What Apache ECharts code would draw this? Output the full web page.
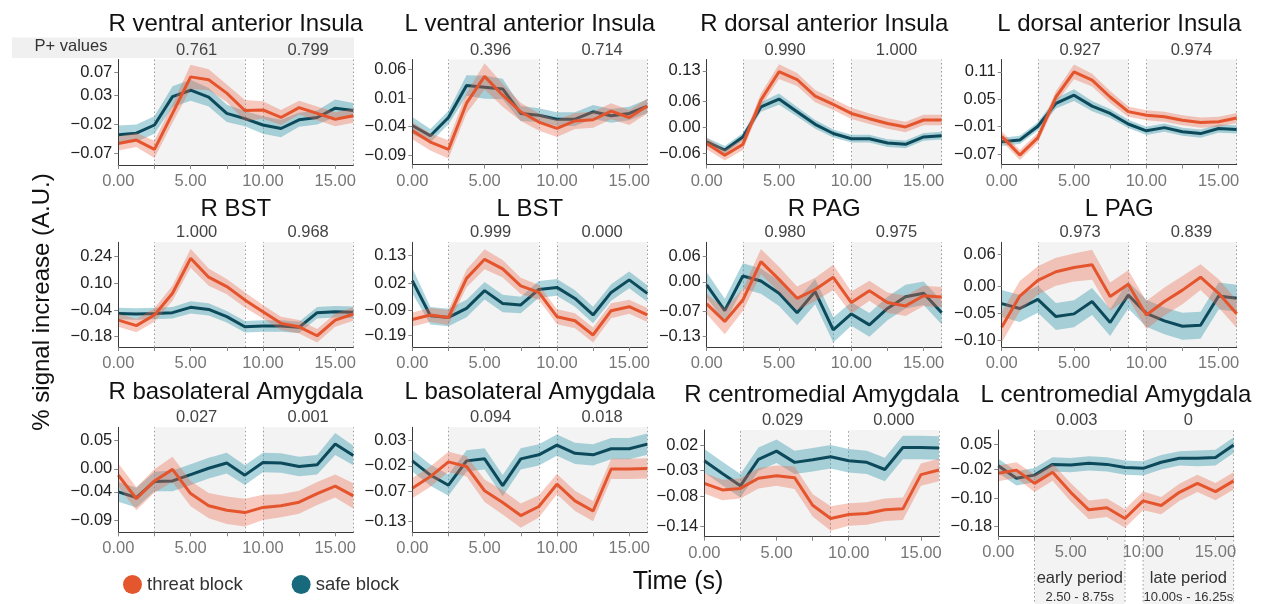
<!DOCTYPE html>
<html><head><meta charset="utf-8">
<script src="https://cdn.jsdelivr.net/npm/echarts@6/dist/echarts.min.js"></script>
<style>html,body{margin:0;padding:0;background:#fff}#c{width:1263px;height:604px}</style>
</head><body><div id="c"></div>
<script>
// ---------------- DATA ----------------
const timePoints = [0, 1.25, 2.5, 3.75, 5, 6.25, 7.5, 8.75, 10, 11.25, 12.5, 13.75, 15, 16.25];
const regionTitles = ['R ventral anterior Insula','L ventral anterior Insula','R dorsal anterior Insula','L dorsal anterior Insula',
  'R BST','L BST','R PAG','L PAG',
  'R basolateral Amygdala','L basolateral Amygdala','R centromedial Amygdala','L centromedial Amygdala'];
const pEarly = ['0.761','0.396','0.990','0.927','1.000','0.999','0.980','0.973','0.027','0.094','0.029','0.003'];
const pLate  = ['0.799','0.714','1.000','0.974','0.968','0.000','0.975','0.839','0.001','0.018','0.000','0'];
const yTicks = [
  [-0.07,-0.02,0.03,0.07],[-0.09,-0.04,0.01,0.06],[-0.06,0.00,0.06,0.13],[-0.07,-0.01,0.05,0.11],
  [-0.18,-0.04,0.10,0.24],[-0.19,-0.09,0.02,0.13],[-0.13,-0.07,0.00,0.06],[-0.10,-0.05,0.00,0.06],
  [-0.09,-0.04,0.00,0.05],[-0.13,-0.07,-0.02,0.03],[-0.14,-0.08,-0.03,0.02],[-0.18,-0.10,-0.02,0.05]];
const yRange = [
  [-0.090,0.092],[-0.1063,0.0775],[-0.0853,0.156],[-0.0926,0.137],
  [-0.234,0.315],[-0.235,0.183],[-0.1545,0.094],[-0.1124,0.0816],
  [-0.1102,0.072],[-0.151,0.0563],[-0.1596,0.0494],[-0.206,0.090]];
const threatMean = [
  [-0.053,-0.047,-0.063,-0.001,0.062,0.057,0.034,0.004,0.005,-0.008,0.009,-0.001,-0.011,-0.005],
  [-0.047,-0.067,-0.080,0.001,0.048,0.015,-0.014,-0.032,-0.043,-0.030,-0.028,-0.013,-0.024,-0.004],
  [-0.037,-0.064,-0.039,0.063,0.128,0.110,0.072,0.053,0.032,0.020,0.009,0.001,0.017,0.017],
  [-0.031,-0.072,-0.034,0.055,0.110,0.092,0.055,0.023,0.015,0.012,0.004,-0.001,0.001,0.009],
  [-0.093,-0.122,-0.066,0.048,0.231,0.132,0.083,0.013,-0.049,-0.110,-0.128,-0.175,-0.093,-0.061],
  [-0.125,-0.107,-0.117,0.039,0.115,0.077,0.009,-0.017,-0.114,-0.130,-0.187,-0.090,-0.074,-0.107],
  [-0.052,-0.094,-0.043,0.048,0.006,-0.039,-0.018,0.011,-0.049,-0.021,-0.049,-0.057,-0.033,-0.036],
  [-0.076,-0.018,0.011,0.027,0.035,0.040,-0.019,0.004,-0.053,-0.028,-0.007,0.017,-0.013,-0.051],
  [-0.011,-0.052,-0.021,-0.001,-0.043,-0.064,-0.072,-0.076,-0.067,-0.064,-0.058,-0.043,-0.030,-0.047],
  [-0.064,-0.041,-0.012,-0.021,-0.069,-0.092,-0.118,-0.100,-0.056,-0.089,-0.109,-0.026,-0.026,-0.025],
  [-0.055,-0.068,-0.065,-0.045,-0.040,-0.044,-0.098,-0.124,-0.116,-0.114,-0.107,-0.105,-0.038,-0.029],
  [-0.031,-0.022,-0.059,-0.028,-0.084,-0.133,-0.127,-0.157,-0.108,-0.121,-0.084,-0.059,-0.082,-0.052]];
const threatErr = [
  [0.012,0.012,0.015,0.016,0.021,0.018,0.015,0.018,0.015,0.013,0.012,0.012,0.012,0.012],
  [0.015,0.015,0.016,0.018,0.023,0.020,0.016,0.015,0.015,0.014,0.014,0.014,0.013,0.013],
  [0.013,0.012,0.013,0.015,0.017,0.015,0.014,0.013,0.013,0.012,0.012,0.012,0.012,0.012],
  [0.011,0.011,0.011,0.013,0.016,0.014,0.013,0.011,0.011,0.011,0.011,0.011,0.011,0.011],
  [0.035,0.035,0.035,0.040,0.050,0.045,0.040,0.040,0.035,0.035,0.035,0.035,0.035,0.035],
  [0.028,0.028,0.030,0.035,0.040,0.035,0.032,0.030,0.030,0.030,0.030,0.030,0.028,0.028],
  [0.024,0.030,0.026,0.030,0.030,0.028,0.028,0.030,0.026,0.024,0.024,0.024,0.024,0.024],
  [0.028,0.028,0.026,0.026,0.026,0.028,0.026,0.026,0.026,0.026,0.026,0.024,0.026,0.026],
  [0.020,0.020,0.020,0.022,0.022,0.022,0.024,0.024,0.022,0.020,0.020,0.020,0.020,0.022],
  [0.020,0.020,0.020,0.020,0.022,0.024,0.024,0.022,0.020,0.020,0.020,0.020,0.020,0.020],
  [0.020,0.020,0.020,0.020,0.020,0.022,0.022,0.024,0.022,0.022,0.022,0.022,0.022,0.022],
  [0.022,0.022,0.024,0.024,0.026,0.026,0.026,0.026,0.026,0.024,0.024,0.024,0.024,0.024]];
const safeMean = [
  [-0.038,-0.035,-0.021,0.028,0.039,0.027,-0.001,-0.010,-0.021,-0.027,-0.012,-0.008,0.008,0.004],
  [-0.038,-0.056,-0.024,0.032,0.029,0.026,-0.017,-0.020,-0.027,-0.027,-0.014,-0.021,-0.017,-0.004],
  [-0.033,-0.052,-0.022,0.047,0.065,0.036,0.007,-0.014,-0.026,-0.026,-0.036,-0.039,-0.022,-0.019],
  [-0.043,-0.039,-0.009,0.041,0.059,0.035,0.019,-0.004,-0.019,-0.012,-0.021,-0.025,-0.014,-0.016],
  [-0.058,-0.061,-0.058,-0.054,-0.026,-0.037,-0.075,-0.128,-0.124,-0.124,-0.131,-0.054,-0.049,-0.052],
  [0.030,-0.110,-0.117,-0.081,-0.010,-0.061,-0.067,-0.005,0.003,-0.041,-0.107,-0.017,0.033,-0.021],
  [-0.007,-0.068,0.014,0.002,-0.027,-0.073,-0.023,-0.114,-0.076,-0.102,-0.063,-0.035,-0.027,-0.073],
  [-0.032,-0.041,-0.024,-0.056,-0.051,-0.028,-0.067,-0.016,-0.050,-0.064,-0.074,-0.072,-0.018,-0.022],
  [-0.040,-0.050,-0.022,-0.021,-0.010,0.001,0.010,-0.011,0.011,0.010,0.004,0.007,0.043,0.023],
  [-0.010,-0.038,-0.058,-0.010,-0.006,-0.059,-0.006,0.002,0.021,0.005,0.002,0.014,0.014,0.023],
  [-0.011,-0.036,-0.060,-0.008,0.008,-0.014,-0.009,-0.003,-0.011,-0.014,-0.028,0.015,0.015,0.014],
  [-0.010,-0.045,-0.036,-0.006,-0.008,-0.003,-0.006,-0.015,-0.017,0.000,0.011,0.011,0.013,0.048]];
const safeErr = [
  [0.016,0.015,0.015,0.018,0.018,0.016,0.015,0.013,0.015,0.015,0.012,0.012,0.015,0.013],
  [0.015,0.012,0.012,0.018,0.020,0.018,0.013,0.012,0.012,0.012,0.012,0.012,0.012,0.012],
  [0.009,0.009,0.009,0.011,0.013,0.011,0.010,0.009,0.009,0.009,0.009,0.009,0.009,0.009],
  [0.009,0.009,0.009,0.011,0.013,0.011,0.010,0.009,0.009,0.009,0.009,0.009,0.009,0.009],
  [0.030,0.030,0.030,0.030,0.032,0.032,0.030,0.030,0.030,0.030,0.030,0.030,0.030,0.030],
  [0.050,0.035,0.035,0.035,0.035,0.035,0.033,0.033,0.033,0.033,0.033,0.033,0.033,0.033],
  [0.030,0.028,0.030,0.030,0.030,0.030,0.030,0.030,0.028,0.028,0.028,0.028,0.028,0.028],
  [0.025,0.025,0.025,0.025,0.025,0.025,0.025,0.025,0.025,0.025,0.025,0.025,0.025,0.025],
  [0.017,0.017,0.017,0.018,0.018,0.018,0.018,0.017,0.017,0.017,0.017,0.017,0.019,0.017],
  [0.021,0.021,0.021,0.021,0.021,0.021,0.021,0.021,0.021,0.021,0.021,0.021,0.021,0.021],
  [0.023,0.023,0.023,0.023,0.023,0.023,0.023,0.023,0.023,0.023,0.023,0.023,0.023,0.023],
  [0.020,0.020,0.020,0.020,0.020,0.020,0.020,0.020,0.020,0.020,0.020,0.022,0.022,0.022]];
const earlyWindow = ['2.50', '8.75'];
const lateWindow = ['10.00', '16.25'];
const seriesNames = ['threat block', 'safe block'];

// ---------------- LAYOUT ----------------
const panelBoxes = [
  [118.3,59.5,235,105.5],[412.3,59.5,235,105],[706.7,59.5,235,105],[1001.7,59.5,235,105],
  [118.3,242.3,235,104.7],[412.3,242.3,235,104.7],[706.7,242.3,235,104.7],[1001.7,242.3,235,104.7],
  [118.3,427.3,235,105],[412.3,427.3,235,105],[704.3,430,234.7,106.7],[998.3,430,235.3,106]];
const titleOffset = [35,35,35,35,33,33,33,33,35,35,35,35];
const FONT = '"Liberation Sans", Arial, sans-serif';
const C_THREAT = '#e4552e', C_SAFE = '#0c4a5b';
const B_THREAT = 'rgba(235,105,75,0.36)', B_SAFE = 'rgba(60,155,175,0.42)';
const SHADE = '#f3f3f3';

const timeLabels = timePoints.map(t => t.toFixed(2));
const fmtTick = v => (Math.abs(v) < 1e-9 ? 0 : v).toFixed(2).replace('-', '\u2212');

const grids = [], xAxes = [], yAxes = [], series = [];
panelBoxes.forEach((b, i) => {
  grids.push({left: b[0], top: b[1], width: b[2], height: b[3], containLabel: false, outerBoundsMode: 'none'});
  xAxes.push({
    type: 'category', gridIndex: i, data: timeLabels, boundaryGap: false, z: 6,
    axisLine: {show: true, onZero: false, lineStyle: {color: '#3a3a3a', width: 1}},
    axisTick: {show: true, length: 4, interval: (idx) => idx % 2 === 0, lineStyle: {color: '#888'}},
    axisLabel: {interval: (idx) => idx % 4 === 0, color: '#777', fontSize: 16.5, fontFamily: FONT, margin: 8},
    splitLine: {show: false}
  });
  yAxes.push({
    type: 'value', gridIndex: i, min: yRange[i][0], max: yRange[i][1], z: 6,
    axisLine: {show: true, onZero: false, lineStyle: {color: '#3a3a3a', width: 1}},
    axisTick: {show: true, length: 4, customValues: yTicks[i], lineStyle: {color: '#888'}},
    axisLabel: {customValues: yTicks[i], formatter: fmtTick, color: '#222', fontSize: 16.5, fontFamily: FONT, margin: 6},
    splitLine: {show: false}
  });
  // background shading and dotted window lines
  series.push({
    type: 'line', xAxisIndex: i, yAxisIndex: i, data: [], silent: true, z: 1,
    markArea: {silent: true, z: 1, itemStyle: {color: SHADE},
      data: [[{xAxis: earlyWindow[0]}, {xAxis: earlyWindow[1]}], [{xAxis: lateWindow[0]}, {xAxis: lateWindow[1]}]]},
    markLine: {silent: true, z: 1, symbol: ['none', 'none'], label: {show: false},
      lineStyle: {color: '#9a9a9a', type: [1.5, 2.5], width: 1},
      data: [{xAxis: earlyWindow[0]}, {xAxis: earlyWindow[1]}, {xAxis: lateWindow[0]}, {xAxis: lateWindow[1]}]}
  });
  const addSeries = (name, mean, err, lineColor, bandColor, zBase) => {
    const st = 'band' + name + i;
    series.push({type: 'line', xAxisIndex: i, yAxisIndex: i, stack: st, stackStrategy: 'all', silent: true,
      symbol: 'none', lineStyle: {opacity: 0}, z: zBase, data: mean.map((m, k) => m - err[k])});
    series.push({type: 'line', xAxisIndex: i, yAxisIndex: i, stack: st, stackStrategy: 'all', silent: true,
      symbol: 'none', lineStyle: {opacity: 0}, areaStyle: {color: bandColor, opacity: 1}, z: zBase,
      data: err.map(e => 2 * e)});
    series.push({type: 'line', name: name, xAxisIndex: i, yAxisIndex: i, silent: true, symbol: 'none',
      color: lineColor, lineStyle: {color: lineColor, width: 3}, z: zBase + 1, data: mean});
  };
  addSeries(seriesNames[1], safeMean[i], safeErr[i], C_SAFE, B_SAFE, 2);
  addSeries(seriesNames[0], threatMean[i], threatErr[i], C_THREAT, B_THREAT, 4);
});

const chart = echarts.init(document.getElementById('c'));
chart.setOption({
  animation: false,
  backgroundColor: '#fff',
  grid: grids, xAxis: xAxes, yAxis: yAxes, series: series,
  legend: {
    left: 118, top: 570, icon: 'circle', itemWidth: 19, itemHeight: 19, itemGap: 49,
    textStyle: {fontSize: 18.5, color: '#333', fontFamily: FONT},
    data: [{name: seriesNames[0], itemStyle: {color: '#e4572e'}}, {name: seriesNames[1], itemStyle: {color: '#176a7b'}}]
  }
});

// ---------------- TEXT DECORATIONS ----------------
const g = [];
const txt = (text, x, y, size, color, extra) => Object.assign({
  type: 'text', x: x, y: y, silent: true, z: 20,
  style: {text: text, font: size + 'px ' + FONT, fill: color, align: 'center', verticalAlign: 'middle'}
}, extra || {});
// P+ values band (first panel)
g.push({type: 'rect', shape: {x: 12, y: 37.5, width: 342, height: 20.5}, style: {fill: '#f0f0f0'}, z: 0, silent: true});
g.push(txt('P+ values', 71, 46.5, 16.5, '#333'));
panelBoxes.forEach((b, i) => {
  g.push(txt(regionTitles[i], b[0] + b[2] / 2, b[1] - titleOffset[i], 24, '#111'));
  const e0 = chart.convertToPixel({gridIndex: i}, [earlyWindow[0], 0])[0];
  const e1 = chart.convertToPixel({gridIndex: i}, [earlyWindow[1], 0])[0];
  const l0 = chart.convertToPixel({gridIndex: i}, [lateWindow[0], 0])[0];
  const l1 = chart.convertToPixel({gridIndex: i}, [lateWindow[1], 0])[0];
  g.push(txt(pEarly[i], (e0 + e1) / 2 - 3, b[1] - 9.5, 16.5, '#444'));
  g.push(txt(pLate[i], (l0 + l1) / 2, b[1] - 9.5, 16.5, '#444'));
  if (i === 11) {
    const yb = b[1] + b[3];
    [[e0, e1], [l0, l1]].forEach(p => {
      g.push({type: 'rect', shape: {x: p[0], y: yb + 0.5, width: p[1] - p[0], height: 604 - yb}, style: {fill: SHADE}, z: 0, silent: true});
    });
    [e0, e1, l0, l1].forEach(x => {
      g.push({type: 'line', shape: {x1: x, y1: yb, x2: x, y2: 604}, style: {stroke: '#9a9a9a', lineWidth: 1, lineDash: [1.5, 2.5]}, z: 1, silent: true});
    });
    g.push(txt('early period', (e0 + e1) / 2, 578, 16.5, '#333'));
    g.push(txt('2.50 - 8.75s', (e0 + e1) / 2, 597, 13, '#333'));
    g.push(txt('late period', (l0 + l1) / 2, 578, 16.5, '#333'));
    g.push(txt('10.00s - 16.25s', (l0 + l1) / 2, 597, 13, '#333'));
  }
});
g.push(txt('% signal increase (A.U.)', 42, 302, 24, '#111', {rotation: Math.PI / 2}));
g.push(txt('Time (s)', 678, 582, 25, '#111'));
chart.setOption({graphic: g});
</script>
</body></html>
